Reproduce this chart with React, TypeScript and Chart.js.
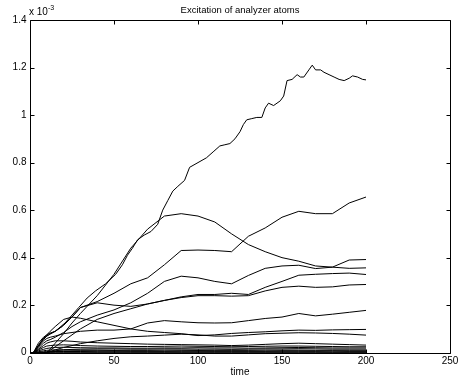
import React, { useEffect, useRef } from "react";
import { Chart, registerables } from "chart.js";

Chart.register(...registerables);

const TITLE = "Excitation of analyzer atoms";
const X_LABEL = "time";
const X_TICKS = [0, 50, 100, 150, 200, 250];
const Y_TICKS = [0, 0.2, 0.4, 0.6, 0.8, 1.0, 1.2, 1.4];

// common time grid for most runs
const T = [0, 2, 5, 8, 10, 12, 15, 20, 25, 30, 40, 50, 60, 70, 80, 90, 100, 110, 120, 130, 140, 150, 160, 170, 180, 190, 200];

// top (noisy) run has its own time grid
const T_TOP = [0, 2, 5, 8, 11, 15, 19, 24, 29, 34, 39, 45, 51, 55, 58, 61, 64, 68, 72, 76, 79, 82, 85, 88, 92, 95, 100, 105, 109, 113, 116, 119, 122, 125, 127, 129, 132, 135, 138, 140, 142, 145, 149, 151, 153, 156, 159, 161, 163, 166, 168, 170, 173, 175, 178, 181, 184, 187, 190, 192, 195, 198, 200];
const RUN_TOP = [0, 0, 0.04, 0.065, 0.08, 0.09, 0.11, 0.15, 0.19, 0.23, 0.26, 0.29, 0.33, 0.37, 0.41, 0.44, 0.475, 0.495, 0.51, 0.54, 0.6, 0.64, 0.68, 0.7, 0.725, 0.78, 0.8, 0.82, 0.845, 0.87, 0.875, 0.88, 0.9, 0.93, 0.96, 0.98, 0.985, 0.99, 0.99, 1.03, 1.05, 1.04, 1.06, 1.08, 1.145, 1.15, 1.17, 1.16, 1.16, 1.19, 1.21, 1.19, 1.19, 1.18, 1.17, 1.16, 1.15, 1.145, 1.155, 1.165, 1.16, 1.15, 1.148];

const RUN_2 = [0, 0, 0, 0, 0, 0.015, 0.04, 0.08, 0.125, 0.165, 0.24, 0.33, 0.44, 0.52, 0.575, 0.585, 0.575, 0.55, 0.5, 0.455, 0.425, 0.4, 0.385, 0.365, 0.36, 0.355, 0.357];
const RUN_3 = [0, 0, 0.03, 0.055, 0.07, 0.08, 0.09, 0.12, 0.15, 0.19, 0.215, 0.25, 0.29, 0.315, 0.37, 0.43, 0.432, 0.43, 0.425, 0.49, 0.525, 0.57, 0.595, 0.585, 0.585, 0.63, 0.655];
const RUN_4 = [0, 0, 0.02, 0.04, 0.05, 0.055, 0.065, 0.085, 0.11, 0.13, 0.158, 0.18, 0.21, 0.25, 0.3, 0.322, 0.315, 0.3, 0.29, 0.325, 0.355, 0.365, 0.368, 0.354, 0.36, 0.39, 0.392];
const RUN_5 = [0, 0, 0.03, 0.06, 0.07, 0.078, 0.09, 0.115, 0.15, 0.19, 0.21, 0.2, 0.195, 0.205, 0.22, 0.235, 0.245, 0.245, 0.25, 0.245, 0.275, 0.3, 0.326, 0.33, 0.333, 0.335, 0.329];
const RUN_6 = [0, 0, 0, 0, 0, 0.01, 0.025, 0.05, 0.075, 0.1, 0.14, 0.165, 0.185, 0.205, 0.22, 0.232, 0.24, 0.24, 0.238, 0.24, 0.26, 0.275, 0.28, 0.275, 0.277, 0.285, 0.287];
const RUN_7 = [0, 0, 0.025, 0.05, 0.06, 0.065, 0.07, 0.08, 0.085, 0.09, 0.095, 0.095, 0.1, 0.125, 0.135, 0.13, 0.126, 0.125, 0.126, 0.135, 0.144, 0.15, 0.165, 0.155, 0.162, 0.17, 0.178];
const RUN_8 = [0, 0, 0.03, 0.06, 0.075, 0.09, 0.11, 0.14, 0.15, 0.145, 0.13, 0.115, 0.1, 0.09, 0.085, 0.08, 0.072, 0.075, 0.081, 0.085, 0.088, 0.092, 0.095, 0.094, 0.096, 0.097, 0.098];
const RUN_9 = [0, 0, 0, 0, 0, 0.005, 0.012, 0.022, 0.03, 0.038, 0.05, 0.06, 0.067, 0.07, 0.074, 0.078, 0.075, 0.07, 0.07, 0.075, 0.08, 0.082, 0.084, 0.083, 0.081, 0.078, 0.074];
const RUN_10 = [0, 0, 0.015, 0.03, 0.04, 0.045, 0.05, 0.05, 0.048, 0.045, 0.042, 0.04, 0.038, 0.036, 0.035, 0.034, 0.033, 0.032, 0.03, 0.032, 0.035, 0.038, 0.04, 0.038, 0.036, 0.034, 0.032];
const RUN_11 = [0, 0, 0.012, 0.022, 0.028, 0.03, 0.032, 0.033, 0.032, 0.03, 0.028, 0.027, 0.026, 0.026, 0.027, 0.028, 0.027, 0.026, 0.025, 0.026, 0.027, 0.028, 0.028, 0.027, 0.026, 0.025, 0.025];
const RUN_12 = [0, 0, 0.008, 0.014, 0.018, 0.02, 0.022, 0.023, 0.022, 0.021, 0.02, 0.02, 0.019, 0.019, 0.02, 0.02, 0.021, 0.02, 0.02, 0.019, 0.02, 0.021, 0.022, 0.021, 0.02, 0.02, 0.02];
const RUN_13 = [0, 0, 0, 0, 0, 0.004, 0.008, 0.012, 0.014, 0.015, 0.016, 0.016, 0.015, 0.015, 0.016, 0.016, 0.015, 0.015, 0.014, 0.015, 0.016, 0.016, 0.017, 0.016, 0.015, 0.015, 0.015];
const RUN_14 = [0, 0, 0.004, 0.008, 0.01, 0.011, 0.012, 0.012, 0.012, 0.011, 0.011, 0.01, 0.01, 0.01, 0.011, 0.011, 0.01, 0.01, 0.01, 0.01, 0.011, 0.011, 0.011, 0.01, 0.01, 0.01, 0.01];
const RUN_15 = [0, 0, 0, 0, 0, 0.003, 0.005, 0.007, 0.008, 0.008, 0.008, 0.008, 0.007, 0.007, 0.007, 0.008, 0.008, 0.007, 0.007, 0.007, 0.007, 0.008, 0.008, 0.007, 0.007, 0.006, 0.006];
const RUN_16 = [0, 0, 0.002, 0.004, 0.005, 0.005, 0.005, 0.005, 0.005, 0.005, 0.004, 0.004, 0.004, 0.004, 0.004, 0.004, 0.004, 0.004, 0.004, 0.004, 0.004, 0.004, 0.004, 0.004, 0.003, 0.003, 0.003];
const RUN_17 = [0, 0, 0, 0, 0, 0.001, 0.002, 0.002, 0.002, 0.002, 0.002, 0.002, 0.002, 0.002, 0.002, 0.002, 0.002, 0.002, 0.002, 0.002, 0.002, 0.002, 0.002, 0.002, 0.002, 0.002, 0.002];
const RUN_18 = [0, 0, 0.001, 0.001, 0.001, 0.001, 0.001, 0.001, 0.001, 0.001, 0.001, 0.001, 0.001, 0.001, 0.001, 0.001, 0.001, 0.001, 0.001, 0.001, 0.001, 0.001, 0.001, 0.001, 0.001, 0.001, 0.001];

const RUNS_COMMON = [RUN_2, RUN_3, RUN_4, RUN_5, RUN_6, RUN_7, RUN_8, RUN_9, RUN_10, RUN_11, RUN_12, RUN_13, RUN_14, RUN_15, RUN_16, RUN_17, RUN_18];

const FONT = "'Liberation Sans', Arial, Helvetica, sans-serif";

export default function App() {
  const ref = useRef<HTMLCanvasElement | null>(null);

  useEffect(() => {
    if (!ref.current) return;
    const toPts = (ts: number[], vs: number[]) => ts.map((t, i) => ({ x: t, y: vs[i] }));
    const datasets = [
      { data: toPts(T_TOP, RUN_TOP) },
      ...RUNS_COMMON.map((r) => ({ data: toPts(T, r) })),
    ].map((d) => ({
      ...d,
      borderColor: "#000",
      borderWidth: 1,
      pointRadius: 0,
      tension: 0,
      fill: false,
      showLine: true,
    }));

    const framePlugin = {
      id: "matlabFrame",
      afterDraw(chart: any) {
        const ctx = chart.ctx;
        const { left, right, top, bottom } = chart.chartArea;
        const xs = chart.scales.x;
        const ys = chart.scales.y;
        ctx.save();
        ctx.strokeStyle = "#000";
        ctx.lineWidth = 1;
        const L = Math.round(left) + 0.5;
        const R = Math.round(right) + 0.5;
        const Tp = Math.round(top) + 0.5;
        const B = Math.round(bottom) + 0.5;
        ctx.beginPath();
        ctx.rect(L, Tp, R - L, B - Tp);
        const tl = 4;
        X_TICKS.forEach((v) => {
          const px = Math.round(xs.getPixelForValue(v)) + 0.5;
          ctx.moveTo(px, B);
          ctx.lineTo(px, B - tl);
          ctx.moveTo(px, Tp);
          ctx.lineTo(px, Tp + tl);
        });
        Y_TICKS.forEach((v) => {
          const py = Math.round(ys.getPixelForValue(v)) + 0.5;
          ctx.moveTo(L, py);
          ctx.lineTo(L + tl, py);
          ctx.moveTo(R, py);
          ctx.lineTo(R - tl, py);
        });
        ctx.stroke();

        ctx.fillStyle = "#000";
        ctx.font = `10px ${FONT}`;
        ctx.textBaseline = "middle";
        // tick labels
        ctx.textAlign = "center";
        X_TICKS.forEach((v) => {
          ctx.fillText(String(v), xs.getPixelForValue(v), 361);
        });
        ctx.textAlign = "right";
        Y_TICKS.forEach((v) => {
          ctx.fillText(String(Number(v.toFixed(1))), 26.5, ys.getPixelForValue(v));
        });
        ctx.textAlign = "center";
        ctx.font = `9.5px ${FONT}`;
        ctx.fillText(TITLE, (left + right) / 2, 10);
        ctx.font = `10px ${FONT}`;
        ctx.fillText(X_LABEL, (left + right) / 2, 372);
        ctx.textAlign = "left";
        ctx.fillText("x 10", 29, 12);
        ctx.font = `7px ${FONT}`;
        ctx.fillText("-3", 48, 8);
        ctx.restore();
      },
    };

    const chart = new Chart(ref.current, {
      type: "line",
      data: { datasets },
      options: {
        animation: false,
        responsive: false,
        maintainAspectRatio: false,
        layout: { padding: { left: 0, right: 13, top: 20, bottom: 0 } },
        plugins: { legend: { display: false }, title: { display: false }, tooltip: { enabled: false } },
        scales: {
          x: {
            type: "linear",
            min: 0,
            max: 250,
            afterBuildTicks: (s: any) => { s.ticks = X_TICKS.map((v) => ({ value: v })); },
            afterFit: (s: any) => { s.height = 25.3; },
            grid: { display: false },
            border: { display: false },
            ticks: { display: false },
          },
          y: {
            type: "linear",
            min: 0,
            max: 1.4,
            afterBuildTicks: (s: any) => { s.ticks = Y_TICKS.map((v) => ({ value: v })); },
            afterFit: (s: any) => { s.width = 30; },
            grid: { display: false },
            border: { display: false },
            ticks: { display: false },
          },
        },
      },
      plugins: [framePlugin],
    });
    return () => chart.destroy();
  }, []);

  return (
    <div style={{ position: "fixed", left: 0, top: 0, width: 463, height: 378, background: "#fff" }}>
      <canvas ref={ref} width={463} height={378} style={{ width: 463, height: 378, display: "block" }} />
    </div>
  );
}
